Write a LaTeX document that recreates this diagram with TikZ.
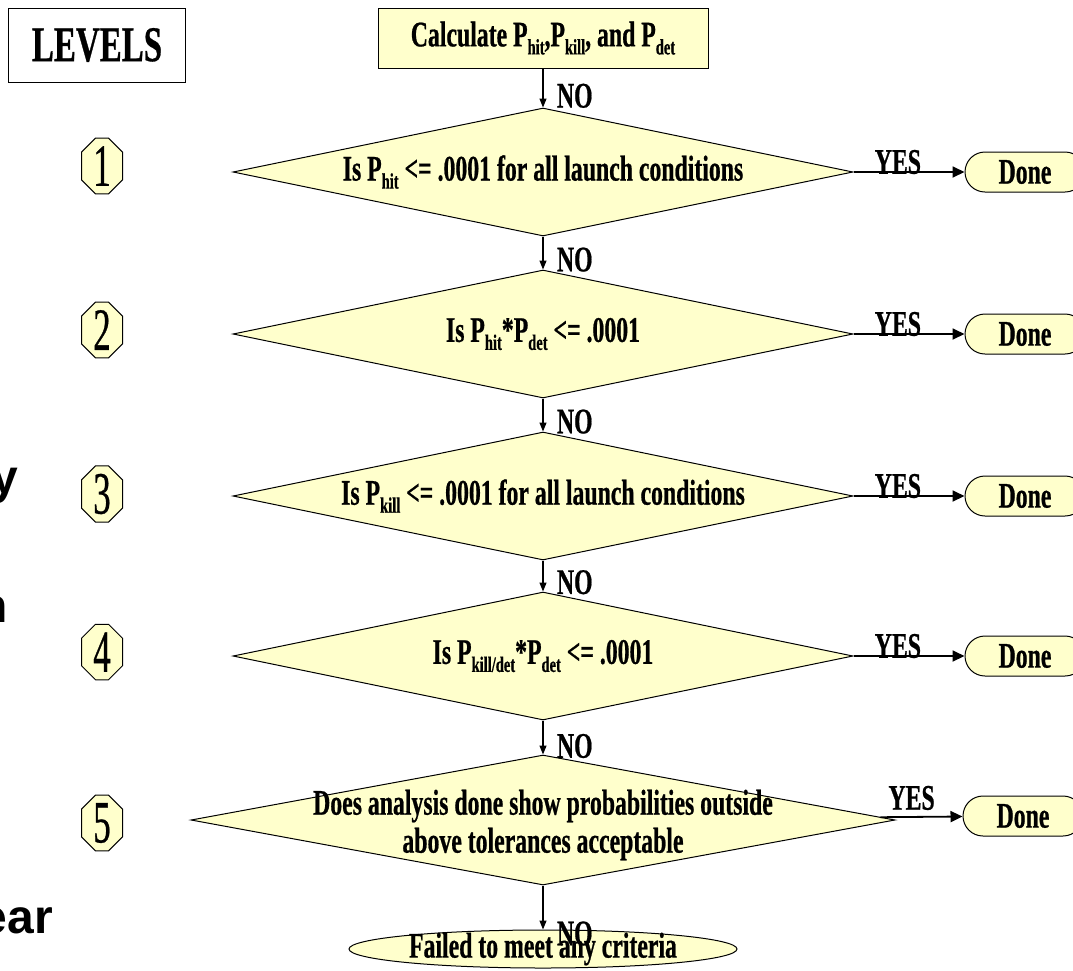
\documentclass[tikz,border=0pt]{standalone}
\usepackage{fontspec}
\setmainfont{Liberation Serif}[FakeStretch=0.66, BoldFeatures={FakeBold=0.6}]
\newfontfamily\digitfont{Liberation Serif}[FakeStretch=0.58, FakeBold=0.5]
\newfontfamily\slidefont{Liberation Sans}
\usetikzlibrary{shapes.geometric}
\usetikzlibrary{shapes.misc}
\usetikzlibrary{arrows.meta}
\definecolor{paleyel}{HTML}{FFFFCC}
\newcommand{\sub}[1]{\raisebox{-8pt}{\fontsize{22}{22}\selectfont #1}}

\begin{document}
\begin{tikzpicture}[x=1pt, y=-1pt,
    txt/.style={font=\bfseries\fontsize{36}{38}\selectfont},
    box/.style={draw, line width=1pt, fill=paleyel, inner sep=0pt},
    decision/.style={box, diamond, minimum width=620pt, minimum height=128pt},
    done/.style={box, rounded rectangle, minimum width=120pt, minimum height=40pt, txt},
    level/.style={box, chamfered rectangle, chamfered rectangle xsep=6pt, chamfered rectangle ysep=8pt,
        minimum width=41pt, minimum height=54pt, font=\digitfont\fontsize{60}{60}\selectfont},
    down/.style={line width=1.2pt, -{Triangle[length=9pt, width=7pt]}},
    yes/.style={line width=1.8pt, -{Triangle[length=12pt, width=11pt]}},
    no/.style={right, txt, xshift=10pt},
    frag/.style={anchor=base east, inner sep=0pt, font=\slidefont\bfseries\fontsize{48}{48}\selectfont}]

    \useasboundingbox (0,0) rectangle (1073,970);

    % left margin, cut-off slide text
    \node[frag] (fragy) at (18,493) {y};
    \node[frag] (fragn) at (8,622) {n};
    \node[frag] (fragear) at (53,933) {ear};

    \node[draw, line width=1pt, minimum width=177pt, minimum height=74pt,
        font=\bfseries\fontsize{50}{50}\selectfont] (levels) at (97,45) {LEVELS};

    \node[box, txt, minimum width=330pt, minimum height=60pt] (calc) at (543,38)
        {Calculate P\sub{hit},P\sub{kill}, and P\sub{det}};

    \node[decision, label={[txt]center:{Is P\sub{hit} <= .0001 for all launch conditions}}] (d1) at (543,172) {};
    \node[decision, label={[txt]center:{Is P\sub{hit}*P\sub{det} <= .0001}}] (d2) at (543,334) {};
    \node[decision, label={[txt]center:{Is P\sub{kill} <= .0001 for all launch conditions}}] (d3) at (543,496) {};
    \node[decision, label={[txt]center:{Is P\sub{kill/det}*P\sub{det} <= .0001}}] (d4) at (543,656) {};
    \node[decision, minimum width=704pt, minimum height=130pt,
        label={[txt, align=center, yshift=-5pt]center:{Does analysis done show probabilities outside\\above tolerances acceptable}}] (d5) at (543,820) {};
    \node[box, ellipse, txt, inner ysep=-3pt, minimum width=388pt, minimum height=38pt] (fail) at (543,949)
        {Failed to meet any criteria};

    % levels
    \node[level] (l1) at (102,166) {1};
    \node[level] (l2) at (102,330) {2};
    \node[level] (l3) at (102,494) {3};
    \node[level] (l4) at (102,652) {4};
    \node[level] (l5) at (102,823) {5};

    \node[done] (done1) at (1025,172) {Done};
    \node[done] (done2) at (1025,334) {Done};
    \node[done] (done3) at (1025,496) {Done};
    \node[done] (done4) at (1025,656) {Done};
    \node[done] (done5) at (1023,816) {Done};

    \draw[down] (calc) -- (d1) node[pos=0.7, no] {NO};
    \draw[down] (d1) -- (d2) node[pos=0.7, no] {NO};
    \draw[down] (d2) -- (d3) node[pos=0.7, no] {NO};
    \draw[down] (d3) -- (d4) node[pos=0.7, no] {NO};
    \draw[down] (d4) -- (d5) node[pos=0.75, no] {NO};
    \draw[down] (d5) -- (fail) node[pos=1, no, yshift=-4pt] {NO};

    \draw[yes] (d1) -- (done1) node[pos=0.4, above, inner sep=0pt, yshift=-3pt, txt] {YES};
    \draw[yes] (d2) -- (done2) node[pos=0.4, above, inner sep=0pt, yshift=-3pt, txt] {YES};
    \draw[yes] (d3) -- (done3) node[pos=0.4, above, inner sep=0pt, yshift=-3pt, txt] {YES};
    \draw[yes] (d4) -- (done4) node[pos=0.4, above, inner sep=0pt, yshift=-3pt, txt] {YES};
    \draw[yes] (d5) -- (done5) node[pos=0.38, above, inner sep=6pt, txt] {YES};
\end{tikzpicture}
\end{document}
